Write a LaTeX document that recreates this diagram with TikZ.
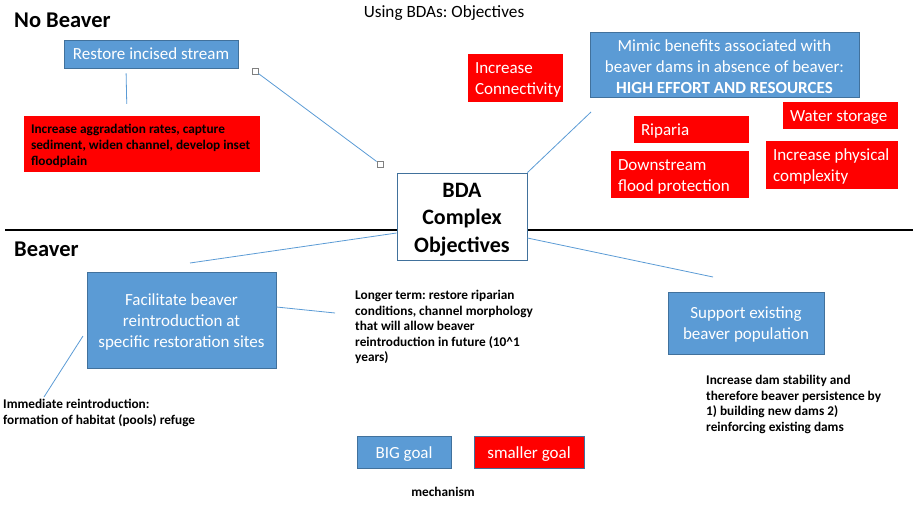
\documentclass[tikz,border=0pt]{standalone}
\usepackage{fontspec}
\setmainfont{Carlito}
\frenchspacing
\newcommand\fl{\rule{0pt}{0.92em}}
\definecolor{bfill}{HTML}{5B9BD5}
\definecolor{bdraw}{HTML}{41719C}
\definecolor{rfill}{HTML}{FF0000}
\begin{document}
\begin{tikzpicture}[x=1pt,y=-1pt,
 bluebox/.style={draw=bdraw, fill=bfill, text=white, align=center, font=\fontsize{17}{21}\selectfont, inner sep=0pt, line width=0.8pt},
 redbox/.style={fill=rfill, text=white, align=flush left, font=\fontsize{17}{21}\selectfont, inner xsep=7pt, inner ysep=0pt},
 note/.style={font=\bfseries\fontsize{13.3}{15.6}\selectfont, align=flush left, inner sep=0pt, anchor=north west, text=black},
 conn/.style={draw=bfill, line width=0.8pt},
 handle/.style={draw=gray, fill=white, minimum size=6pt, inner sep=0pt, line width=0.7pt},
 heading/.style={font=\bfseries\fontsize{22.5}{26}\selectfont, inner sep=0pt, anchor=west}]

\useasboundingbox (0,0) rectangle (913,505);

% headings
\node[heading] (nobeaver) at (14,20) {No Beaver};
\node[heading] (beaver) at (14,249) {Beaver};
\node[font=\fontsize{17.2}{20}\selectfont, inner sep=0pt] (title) at (444,13) {Using BDAs: Objectives};

% divider
\coordinate (divL) at (5,230);
\coordinate (divR) at (913,230);
\draw[line width=2.5pt] (divL) -- (divR);

% central node
\node[draw=bdraw, fill=white, line width=0.8pt, minimum width=130pt, minimum height=87pt, inner sep=0pt,
      align=center, font=\bfseries\fontsize{22}{27.5}\selectfont] (bda) at (462,216.5) {\fl BDA\\Complex\\Objectives};

% No beaver side
\node[bluebox, minimum width=174pt, minimum height=28pt] (restore) at (151,54) {Restore incised stream};
\node[redbox, text=black, text width=222pt, minimum height=56pt, font=\bfseries\fontsize{13.3}{16}\selectfont] (aggr) at (142,144)
  {\fl Increase aggradation rates, capture\\sediment, widen channel, develop inset\\floodplain};
\draw[conn, shorten <=5pt, shorten >=12pt] ([xshift=-25pt]restore.south) -- ([xshift=-15pt]aggr.north);

\node[handle] (h1) at (255,71) {};
\node[handle] (h2) at (380,164) {};
\draw[conn] (h1) -- (h2);

\node[redbox, text width=81pt, minimum height=48pt] (conn) at (515.5,78) {\fl Increase\\Connectivity};
\node[bluebox, minimum width=269pt, minimum height=65pt] (mimic) at (724.5,64.5)
  {\fl Mimic benefits associated with\\beaver dams in absence of beaver:\\\textbf{HIGH EFFORT AND RESOURCES}};
\node[redbox, text width=101pt, minimum height=27pt] (riparia) at (691.5,129.5) {\fl Riparia};
\node[redbox, text width=124pt, minimum height=47pt] (down) at (680,174.5) {\fl Downstream\\flood protection};
\node[redbox, text width=101pt, minimum height=27pt] (water) at (840.5,115.5) {\fl Water storage};
\node[redbox, text width=118pt, minimum height=48pt] (complex) at (832,165) {\fl Increase physical\\complexity};
\coordinate (mimicEnd) at (591,112);
\draw[conn] (bda.north east) -- (mimicEnd);

% Beaver side
\node[bluebox, minimum width=189pt, minimum height=96pt] (facil) at (181.5,320)
  {\fl Facilitate beaver\\reintroduction at\\specific restoration sites};
\coordinate (facilEnd) at (190,263);
\draw[conn] ([yshift=-16.5pt]bda.west) -- (facilEnd);

\node[note] (longer) at (355,290)
  {Longer term: restore riparian\\conditions, channel morphology\\that will allow beaver\\reintroduction in future (10\^{}1\\years)};
\coordinate (longEnd) at (335,313);
\draw[conn] ([yshift=13pt]facil.east) -- (longEnd);

\node[note] (immed) at (3,399) {Immediate reintroduction:\\formation of habitat (pools) refuge};
\coordinate (facilL) at (83,336);
\coordinate (immedEnd) at (44,397);
\draw[conn] (facilL) -- (immedEnd);

\node[bluebox, minimum width=156pt, minimum height=62pt] (support) at (746,323) {\fl Support existing\\beaver population};
\coordinate (supEnd) at (713,277);
\draw[conn] ([yshift=-21.5pt]bda.east) -- (supEnd);

\node[note] (dam) at (706,375)
  {Increase dam stability and\\therefore beaver persistence by\\1) building new dams 2)\\reinforcing existing dams};

% legend
\node[bluebox, minimum width=94pt, minimum height=32pt] (big) at (404,452) {\fl BIG goal};
\node[redbox, draw=bdraw, line width=0.8pt, inner xsep=0pt, align=center, minimum width=110pt, minimum height=32pt] (small) at (529,452) {\fl smaller goal};
\node[font=\bfseries\fontsize{13.3}{16}\selectfont, inner sep=0pt] (mech) at (443,492) {mechanism};
\end{tikzpicture}
\end{document}
